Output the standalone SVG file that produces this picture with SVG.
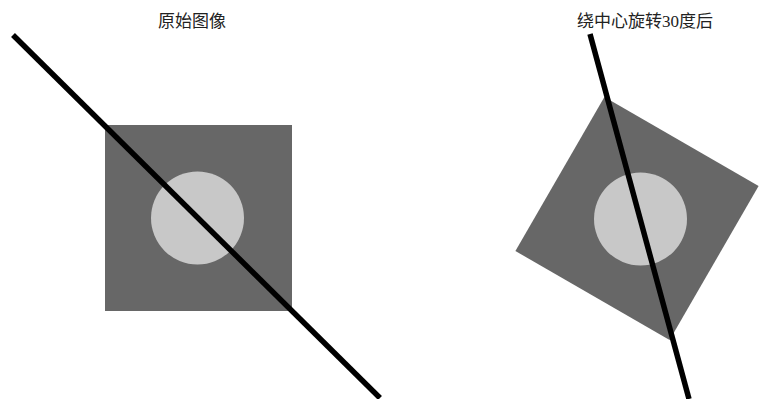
<svg xmlns="http://www.w3.org/2000/svg" width="759" height="399" viewBox="0 0 759 399">
<style>
.t{font-family:"Liberation Serif","Noto Sans CJK SC",serif;font-size:17px;fill:#222;text-anchor:middle}
.sq{fill:#676767}
.ci{fill:#c8c8c8}
.ln{stroke:#000;stroke-width:5.5;stroke-linecap:butt;fill:none}
</style>
<rect width="759" height="399" fill="#fff"/>
<g id="left">
<text class="t" x="192" y="27">原始图像</text>
<rect class="sq" x="105" y="125" width="187" height="186"/>
<circle class="ci" cx="197.5" cy="218" r="46.5"/>
<line class="ln" x1="13" y1="35" x2="380" y2="398"/>
</g>
<g id="right">
<text class="t" x="645" y="27">绕中心旋转30度后</text>
<polygon class="sq" points="604.4,97 758.6,186 669.6,340 515.4,251"/>
<circle class="ci" cx="640.5" cy="219" r="46.5"/>
<line class="ln" x1="590" y1="34" x2="689" y2="399"/>
</g>
</svg>
